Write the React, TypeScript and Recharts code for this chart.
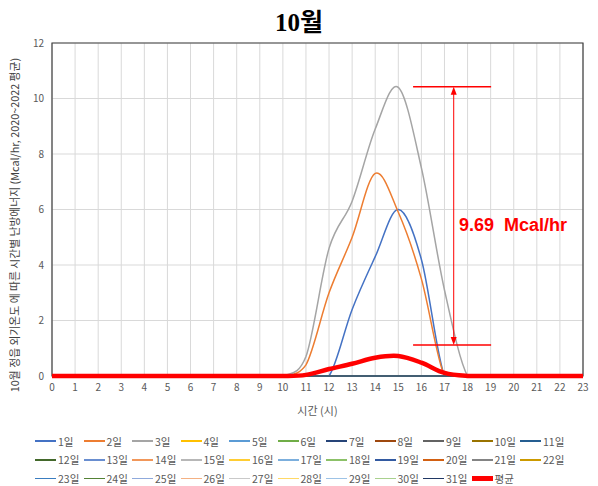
import { LineChart, Line, XAxis, YAxis, CartesianGrid, ReferenceArea, ReferenceLine } from 'recharts'

// hours on the x axis
const HOURS = [0, 1, 2, 3, 4, 5, 6, 7, 8, 9, 10, 11, 12, 13, 14, 15, 16, 17, 18, 19, 20, 21, 22, 23]
const Y_TICKS = [0, 2, 4, 6, 8, 10, 12]

// heating energy per hour (Mcal/hr); days not listed are 0 all day
const DAY1 = [0, 0, 0, 0, 0, 0, 0, 0, 0, 0, 0, 0, 0, 2.4, 4.3, 6.0, 4.2, 0, 0, 0, 0, 0, 0, 0]
const DAY2 = [0, 0, 0, 0, 0, 0, 0, 0, 0, 0, 0, 0.4, 3.0, 5.0, 7.3, 5.9, 3.5, 0, 0, 0, 0, 0, 0, 0]
const DAY3 = [0, 0, 0, 0, 0, 0, 0, 0, 0, 0, 0, 0.7, 4.6, 6.3, 8.9, 10.4, 7.5, 3.1, 0, 0, 0, 0, 0, 0]
const AVERAGE = [0, 0, 0, 0, 0, 0, 0, 0, 0, 0, 0, 0.04, 0.25, 0.44, 0.66, 0.72, 0.48, 0.11, 0, 0, 0, 0, 0, 0]
const ZERO_DAY = HOURS.map(() => 0)

// Excel default series colours, 1일..31일
const DAY_COLORS = [
  '#4472C4', '#ED7D31', '#A5A5A5', '#FFC000', '#5B9BD5', '#70AD47', '#264478', '#9E480E', '#636363', '#997300', '#255E91',
  '#43682B', '#698ED0', '#F1975A', '#B7B7B7', '#FFCD33', '#7CAFDD', '#8CC168', '#335AA1', '#D26012', '#848484', '#CC9A00',
  '#3A7DC0', '#548235', '#8FAADC', '#F4B183', '#C9C9C9', '#FFD966', '#9DC3E6', '#A9D18E', '#203864'
]
const DAY_VALUES: Record<number, number[]> = { 1: DAY1, 2: DAY2, 3: DAY3 }
const DAYS = DAY_COLORS.map((color, i) => ({ key: `d${i + 1}`, name: `${i + 1}일`, color }))

// annotation: gap between the 3일 peak and the average line
const GAP_LABEL = '9.69  Mcal/hr'
const GAP_TOP = 10.42
const GAP_BOTTOM = 1.12
const GAP_X = 17.4
const GAP_X1 = 15.64
const GAP_X2 = 19.02

const data = HOURS.map((hour, i) => {
  const row: Record<string, number> = { hour, avg: AVERAGE[i] }
  DAYS.forEach((d, j) => {
    row[d.key] = (DAY_VALUES[j + 1] || ZERO_DAY)[i]
  })
  return row
})

const FONT = '"Noto Sans CJK KR", "Noto Sans", sans-serif'
const RED = '#FF0000'

// Excel-like "smoothed line": Catmull-Rom through the points,
// with control points kept from dipping below the segment (no negative wiggles)
function excelSmooth(context: any) {
  let xs: number[] = []
  let ys: number[] = []
  return {
    areaStart() {},
    areaEnd() {},
    lineStart() {
      xs = []
      ys = []
    },
    point(x: number, y: number) {
      xs.push(+x)
      ys.push(+y)
    },
    lineEnd() {
      const n = xs.length
      if (!n) return
      context.moveTo(xs[0], ys[0])
      for (let i = 0; i < n - 1; i++) {
        const a = Math.max(i - 1, 0)
        const d = Math.min(i + 2, n - 1)
        const low = Math.max(ys[i], ys[i + 1]) // pixel y grows downward
        context.bezierCurveTo(
          xs[i] + (xs[i + 1] - xs[a]) / 6,
          Math.min(low, ys[i] + (ys[i + 1] - ys[a]) / 6),
          xs[i + 1] - (xs[d] - xs[i]) / 6,
          Math.min(low, ys[i + 1] - (ys[d] - ys[i]) / 6),
          xs[i + 1],
          ys[i + 1]
        )
      }
    }
  }
}

function ArrowShape(props: any) {
  const { x1, y1, x2, y2 } = props
  const top = Math.min(y1, y2)
  const bottom = Math.max(y1, y2)
  return (
    <g>
      <line x1={x1} y1={top + 4} x2={x2} y2={bottom - 4} stroke={RED} strokeWidth={1} />
      <polygon points={`${x1 - 3},${top + 8} ${x1 + 3},${top + 8} ${x1},${top}`} fill={RED} />
      <polygon points={`${x1 - 3},${bottom - 8} ${x1 + 3},${bottom - 8} ${x1},${bottom}`} fill={RED} />
    </g>
  )
}

function YLabel() {
  return (
    <text
      x={14}
      y={225}
      transform="rotate(-90 14 225)"
      textAnchor="middle"
      dominantBaseline="central"
      fontSize={10.8}
      fill="#404040"
      fontFamily={FONT}
    >
      10월 정읍 외기온도 에 따른 시간별 난방에너지 (Mcal/hr, 2020~2022 평균)
    </text>
  )
}

const LEGEND = [...DAYS.map(d => ({ name: d.name, color: d.color, width: 1.5 })), { name: '평균', color: RED, width: 5 }]

function ChartLegend() {
  return (
    <div style={{ position: 'absolute', left: 35, top: 432, width: 540, fontFamily: FONT, fontSize: 10.5, color: '#595959' }}>
      {LEGEND.map((item, i) => (
        <div
          key={item.name}
          style={{
            position: 'absolute',
            left: (i % 11) * 48.5,
            top: Math.floor(i / 11) * 18.8,
            display: 'flex',
            alignItems: 'center',
            height: 18,
            whiteSpace: 'nowrap'
          }}
        >
          <div style={{ width: 21, height: item.width, background: item.color, marginRight: 2 }} />
          <span>{item.name}</span>
        </div>
      ))}
    </div>
  )
}

export default function App() {
  return (
    <div style={{ position: 'absolute', left: 0, top: 0, width: 598, height: 486, background: '#fff', overflow: 'hidden' }}>
      <div
        style={{
          position: 'absolute',
          left: 0,
          width: 598,
          top: 2,
          textAlign: 'center',
          fontFamily: '"Liberation Serif", "Noto Sans CJK KR", serif',
          fontWeight: 'bold',
          fontSize: 25,
          color: '#000'
        }}
      >
        10월
      </div>
      <LineChart width={598} height={486} data={data} margin={{ top: 43, right: 15, bottom: 65, left: 12 }}>
        <CartesianGrid stroke="#D9D9D9" vertical horizontal verticalValues={HOURS} />
        <XAxis
          dataKey="hour"
          type="number"
          domain={[0, 23]}
          ticks={HOURS}
          interval={0}
          height={45}
          axisLine={false}
          tickLine={false}
          tick={{ fontSize: 10, fill: '#595959', fontFamily: FONT }}
          label={{ value: '시간 (시)', position: 'insideBottom', offset: 6, fontSize: 11, fill: '#595959', fontFamily: FONT }}
        />
        <YAxis
          type="number"
          domain={[0, 12]}
          ticks={Y_TICKS}
          width={40}
          axisLine={false}
          tickLine={false}
          tick={{ fontSize: 10, fill: '#595959', fontFamily: FONT }}
          label={<YLabel />}
        />
        <ReferenceArea x1={0} x2={23} y1={0} y2={12} fill="none" stroke="#404040" strokeWidth={1.2} />
        {DAYS.map(d => (
          <Line
            key={d.key}
            type={excelSmooth as any}
            dataKey={d.key}
            name={d.name}
            stroke={d.color}
            strokeWidth={1.5}
            dot={false}
            isAnimationActive={false}
          />
        ))}
        <Line type={excelSmooth as any} dataKey="avg" name="평균" stroke={RED} strokeWidth={4.5} dot={false} isAnimationActive={false} />
        <ReferenceLine segment={[{ x: GAP_X1, y: GAP_TOP }, { x: GAP_X2, y: GAP_TOP }]} stroke={RED} strokeWidth={1.5} />
        <ReferenceLine segment={[{ x: GAP_X1, y: GAP_BOTTOM }, { x: GAP_X2, y: GAP_BOTTOM }]} stroke={RED} strokeWidth={1.5} />
        <ReferenceLine segment={[{ x: GAP_X, y: GAP_TOP }, { x: GAP_X, y: GAP_BOTTOM }]} shape={ArrowShape} />
      </LineChart>
      <div
        style={{
          position: 'absolute',
          left: 459,
          top: 215,
          fontFamily: '"Liberation Sans", Arial, sans-serif',
          fontWeight: 'bold',
          fontSize: 18,
          color: RED,
          whiteSpace: 'pre'
        }}
      >
        {GAP_LABEL}
      </div>
      <ChartLegend />
    </div>
  )
}
